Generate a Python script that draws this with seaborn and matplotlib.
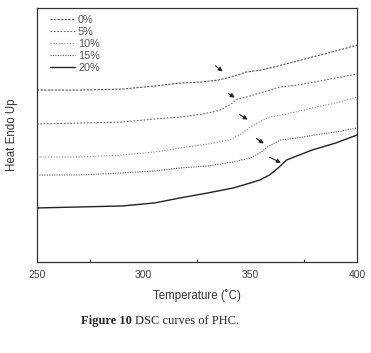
import pandas as pd
import matplotlib.pyplot as plt
import seaborn as sns

# DSC curves (arbitrary heat-flow units, endo up)
temp_0 = [250, 270, 290, 305, 317, 327, 335, 339, 344, 348, 355, 361, 370, 379, 390, 400]
heat_0 = [172, 172, 173, 176, 179, 180, 182, 184, 187, 190, 192, 195, 200, 205, 211, 217]

temp_5 = [250, 270, 290, 305, 317, 328, 336, 341, 344, 348, 356, 364, 372, 380, 390, 400]
heat_5 = [138, 139, 140, 143, 145, 148, 152, 158, 163, 165, 170, 175, 177, 180, 184, 188]

temp_10 = [250, 270, 290, 305, 317, 330, 340, 345, 350, 355, 359, 367, 375, 383, 390, 400]
heat_10 = [105, 105, 107, 110, 114, 118, 122, 127, 135, 141, 145, 148, 152, 156, 159, 165]

temp_15 = [250, 270, 290, 305, 317, 330, 342, 350, 354.5, 358, 364, 372, 380, 390, 400]
heat_15 = [87, 87, 89, 91, 94, 96, 100, 104, 109, 115, 122, 124, 127, 130, 134]

temp_20 = [250, 270, 290, 305, 317, 330, 342, 350, 354.5, 359, 362.5, 367, 373, 379, 390, 400]
heat_20 = [54, 55, 56, 59, 64, 69, 74, 79, 82, 87, 93, 102, 107, 112, 119, 127]

labels = ['0%', '5%', '10%', '15%', '20%']

# arrows marking the transitions: (T start, y start, T tip, y tip)
arrows = [
    (332.5, 198, 338.1, 189),
    (338.6, 170, 343.8, 163),
    (343.8, 149, 349.9, 141),
    (351.8, 125, 357.4, 117),
    (357.9, 106, 365.5, 98),
]

series = [(temp_0, heat_0), (temp_5, heat_5), (temp_10, heat_10),
          (temp_15, heat_15), (temp_20, heat_20)]
styles = [(0, (2, 1.2)), (0, (1.5, 1.5)), (0, (1, 1.5)), (0, (1, 1.2)), '-']
colors = ['#555555', '#666666', '#888888', '#555555', '#222222']
widths = [0.8, 0.8, 0.8, 0.8, 1.0]

sns.set_style('white')
plt.rcParams['font.family'] = ['Liberation Sans', 'DejaVu Sans']

fig = plt.figure(figsize=(3.71, 3.53), dpi=100)
ax = fig.add_axes([0.0997, 0.258, 0.8625, 0.719])

for (t, h), lab, ls, c, w in zip(series, labels, styles, colors, widths):
    df = pd.DataFrame({'T': t, 'H': h})
    sns.lineplot(data=df, x='T', y='H', ax=ax, color=c, linestyle=ls,
                 linewidth=w, label=lab)

for x0, y0, x1, y1 in arrows:
    ax.annotate('', xy=(x1, y1), xytext=(x0, y0),
                arrowprops=dict(arrowstyle='-|>', color='#222222', lw=0.8,
                                mutation_scale=6))

ax.set_xlim(250, 400)
ax.set_ylim(0, 254)
ax.set_xticks([250, 300, 350, 400])
ax.set_xticks([275, 325, 375], minor=True)
ax.set_yticks([])
ax.tick_params(axis='x', which='major', direction='out', length=3, width=0.8,
               labelsize=7.5, colors='#444444', pad=3)
ax.tick_params(axis='x', which='minor', direction='in', length=2, width=0.8,
               bottom=True)
for s in ax.spines.values():
    s.set_color('#333333')
    s.set_linewidth(0.9)

ax.set_xlabel('Temperature (˚C)', fontsize=8.3, color='#333333', labelpad=6)
ax.set_ylabel('Heat Endo Up', fontsize=8.3, color='#333333', labelpad=14)

leg = ax.legend(loc='upper left', frameon=False, fontsize=7.8,
                handlelength=2.3, handletextpad=0.3, labelspacing=0.2,
                borderaxespad=0.2, bbox_to_anchor=(0.02, 1.0))
for txt in leg.get_texts():
    txt.set_color('#555555')

# caption: bold "Figure 10" followed by regular text
serif = ['Liberation Serif', 'DejaVu Serif']
t1 = fig.text(0.218, 0.09, 'Figure 10', fontsize=9, fontweight='bold',
              family=serif, ha='left', va='center')
ax.annotate('DSC curves of PHC.', xy=(1, 0.5), xycoords=t1,
            xytext=(2.5, 0), textcoords='offset points', fontsize=9,
            family=serif, ha='left', va='center', annotation_clip=False)

fig.savefig('out.png', dpi=100)
